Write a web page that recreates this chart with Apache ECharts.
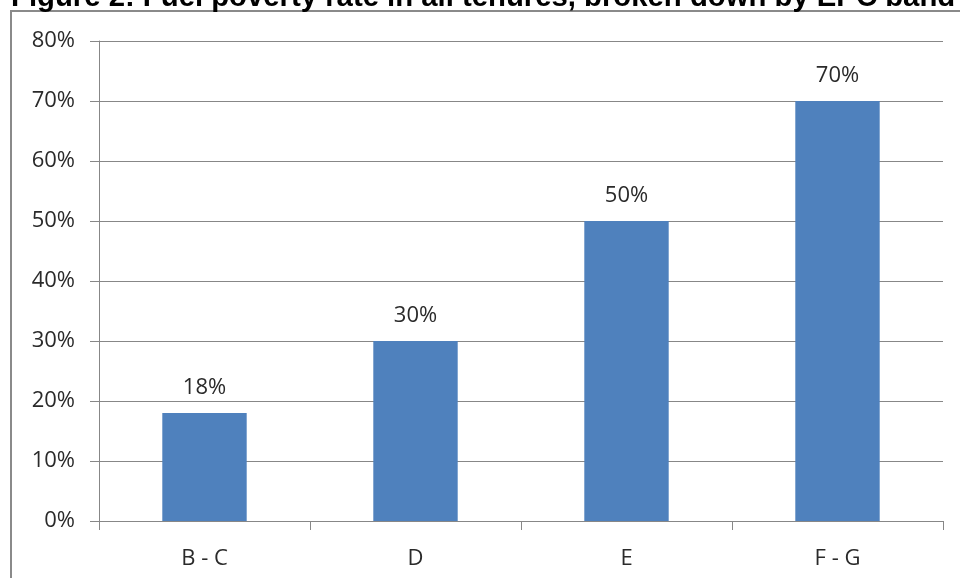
<!DOCTYPE html>
<html>
<head>
<meta charset="utf-8">
<script src="https://cdn.jsdelivr.net/npm/echarts@6/dist/echarts.min.js"></script>
<style>
  html, body { margin: 0; padding: 0; background: #ffffff; }
  #chart { width: 960px; height: 578px; }
</style>
</head>
<body>
<div id="chart"></div>
<script>
// EPC bands and the fuel poverty rate (%) for each band
const bands = ['B - C', 'D', 'E', 'F - G'];
const fuelPovertyRate = [18, 30, 50, 70];
// Value axis ticks (%)
const yTicks = [0, 10, 20, 30, 40, 50, 60, 70, 80];

const titleText = 'Figure 2: Fuel poverty rate in all tenures, broken down by EPC band';
const labelFont = '"Open Sans", "Liberation Sans", sans-serif';
const textColor = '#2a2a2a';
const gray = '#878787';

const chart = echarts.init(document.getElementById('chart'), null, { renderer: 'canvas' });

chart.setOption({
  animation: false,
  backgroundColor: '#ffffff',
  graphic: [
    {
      // outer chart frame
      type: 'rect',
      shape: { x: 11, y: 11, width: 1200, height: 1200 },
      style: { fill: 'none', stroke: '#8a8a8a', lineWidth: 2 },
      z: 0
    },
    {
      type: 'text',
      x: 11,
      y: 12,
      style: {
        text: titleText,
        font: 'bold 29.3px "Liberation Sans", Arial, sans-serif',
        fill: '#000000',
        verticalAlign: 'bottom'
      },
      z: 10
    }
  ],
  grid: { left: 99, right: 17, top: 41, bottom: 57, containLabel: false },
  xAxis: {
    type: 'category',
    data: bands,
    axisLine: { lineStyle: { color: gray, width: 1 } },
    axisTick: { show: true, length: 9, lineStyle: { color: gray } },
    axisLabel: { color: textColor, fontFamily: labelFont, fontSize: 22, margin: 27 }
  },
  yAxis: {
    type: 'value',
    min: yTicks[0],
    max: yTicks[yTicks.length - 1],
    interval: yTicks[1] - yTicks[0],
    axisLine: { show: true, lineStyle: { color: gray, width: 1 } },
    axisTick: { show: true, length: 9, lineStyle: { color: gray } },
    splitLine: { show: true, lineStyle: { color: gray, width: 1 } },
    axisLabel: {
      color: textColor,
      fontFamily: labelFont,
      fontSize: 22,
      margin: 24,
      formatter: '{value}%'
    }
  },
  series: [
    {
      type: 'bar',
      data: fuelPovertyRate,
      barWidth: '40%',
      itemStyle: { color: '#4f81bd' },
      label: {
        show: true,
        position: 'top',
        distance: 14,
        color: textColor,
        fontFamily: labelFont,
        fontSize: 22,
        formatter: '{c}%'
      }
    }
  ]
});
</script>
</body>
</html>
